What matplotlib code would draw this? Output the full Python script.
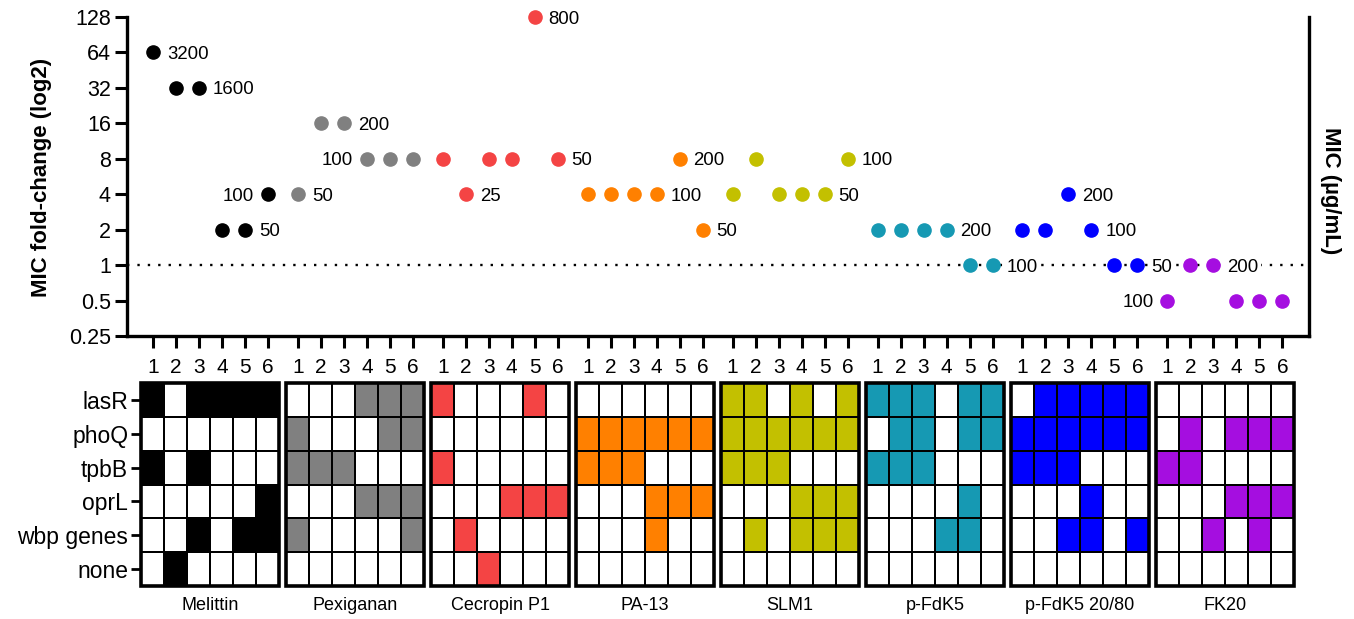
import numpy as np
import matplotlib.pyplot as plt
from matplotlib.colors import ListedColormap
from matplotlib.patches import Rectangle
from matplotlib.ticker import NullLocator

plt.rcParams['font.family'] = ['Liberation Sans', 'DejaVu Sans']

peptides = ['Melittin', 'Pexiganan', 'Cecropin P1', 'PA-13', 'SLM1',
            'p-FdK5', 'p-FdK5 20/80', 'FK20']
colors = ['#000000', '#808080', '#f44444', '#ff8000', '#c3c000',
          '#1699b3', '#0000ff', '#a50ee0']
replicates = ['1', '2', '3', '4', '5', '6']
genes = ['lasR', 'phoQ', 'tpbB', 'oprL', 'wbp genes', 'none']

# MIC fold-change of each evolved line (6 per peptide)
fold_change = [
    [64, 32, 32, 2, 2, 4],        # Melittin
    [4, 16, 16, 8, 8, 8],         # Pexiganan
    [8, 4, 8, 8, 128, 8],         # Cecropin P1
    [4, 4, 4, 4, 8, 2],           # PA-13
    [4, 8, 4, 4, 4, 8],           # SLM1
    [2, 2, 2, 2, 1, 1],           # p-FdK5
    [2, 2, 4, 2, 1, 1],           # p-FdK5 20/80
    [0.5, 1, 1, 0.5, 0.5, 0.5],   # FK20
]

# MIC (ug/mL) annotations: (replicate index, text, side)
mic_labels = [
    [(0, '3200', 'r'), (2, '1600', 'r'), (4, '50', 'r'), (5, '100', 'l')],
    [(0, '50', 'r'), (2, '200', 'r'), (3, '100', 'l')],
    [(1, '25', 'r'), (4, '800', 'r'), (5, '50', 'r')],
    [(3, '100', 'r'), (4, '200', 'r'), (5, '50', 'r')],
    [(4, '50', 'r'), (5, '100', 'r')],
    [(3, '200', 'r'), (5, '100', 'r')],
    [(2, '200', 'r'), (3, '100', 'r'), (5, '50', 'r')],
    [(0, '100', 'l'), (2, '200', 'r')],
]

# mutated genes (rows = genes, cols = replicates)
mutations = [
    [[1, 0, 1, 1, 1, 1], [0, 0, 0, 0, 0, 0], [1, 0, 1, 0, 0, 0],
     [0, 0, 0, 0, 0, 1], [0, 0, 1, 0, 1, 1], [0, 1, 0, 0, 0, 0]],
    [[0, 0, 0, 1, 1, 1], [1, 0, 0, 0, 1, 1], [1, 1, 1, 0, 0, 0],
     [0, 0, 0, 1, 1, 1], [1, 0, 0, 0, 0, 1], [0, 0, 0, 0, 0, 0]],
    [[1, 0, 0, 0, 1, 0], [0, 0, 0, 0, 0, 0], [1, 0, 0, 0, 0, 0],
     [0, 0, 0, 1, 1, 1], [0, 1, 0, 0, 0, 0], [0, 0, 1, 0, 0, 0]],
    [[0, 0, 0, 0, 0, 0], [1, 1, 1, 1, 1, 1], [1, 1, 1, 0, 0, 0],
     [0, 0, 0, 1, 1, 1], [0, 0, 0, 1, 0, 0], [0, 0, 0, 0, 0, 0]],
    [[1, 1, 0, 1, 0, 1], [1, 1, 1, 1, 1, 1], [1, 1, 1, 0, 0, 0],
     [0, 0, 0, 1, 1, 1], [0, 1, 0, 1, 1, 1], [0, 0, 0, 0, 0, 0]],
    [[1, 1, 1, 0, 1, 1], [0, 1, 1, 0, 1, 1], [1, 1, 1, 0, 0, 0],
     [0, 0, 0, 0, 1, 0], [0, 0, 0, 1, 1, 0], [0, 0, 0, 0, 0, 0]],
    [[0, 1, 1, 1, 1, 1], [1, 1, 1, 1, 1, 1], [1, 1, 1, 0, 0, 0],
     [0, 0, 0, 1, 0, 0], [0, 0, 1, 1, 0, 1], [0, 0, 0, 0, 0, 0]],
    [[0, 0, 0, 0, 0, 0], [0, 1, 0, 1, 1, 1], [1, 1, 0, 0, 0, 0],
     [0, 0, 0, 1, 1, 1], [0, 0, 1, 0, 1, 0], [0, 0, 0, 0, 0, 0]],
]

STRIDE = 6.3
W, H = 1354, 619

fig = plt.figure(figsize=(W / 100, H / 100), dpi=100)
ax = fig.add_axes([127 / W, (H - 336) / H, (1309 - 127) / W, (336 - 17) / H])

xticks = []
for g, vals in enumerate(fold_change):
    x = g * STRIDE + np.arange(len(vals))
    xticks.extend(x)
    ax.plot(x, vals, 'o', ms=9.5, color=colors[g], zorder=4, clip_on=False)
    for i, txt, side in mic_labels[g]:
        off = 10 if side == 'r' else -10
        ax.annotate(txt, (x[i], vals[i]), xytext=(off, 0), textcoords='offset points',
                    ha='left' if side == 'r' else 'right', va='center_baseline',
                    fontsize=13.4, zorder=3, annotation_clip=False,
                    bbox=dict(fc='white', ec='none', pad=1.5))

ax.axhline(1, color='black', lw=1.7, ls=(0, (1, 3.4)), zorder=1)

ax.set_yscale('log', base=2)
ax.set_ylim(0.25, 128)
yt = [0.25, 0.5, 1, 2, 4, 8, 16, 32, 64, 128]
ax.set_yticks(yt)
ax.set_yticklabels(['0.25', '0.5', '1', '2', '4', '8', '16', '32', '64', '128'])
ax.yaxis.set_minor_locator(NullLocator())
ax.set_xlim(-1.13, 50.26)
ax.set_xticks(xticks)
ax.set_xticklabels(replicates * len(peptides))
ax.spines['top'].set_visible(False)
for s in ['left', 'bottom', 'right']:
    ax.spines[s].set_linewidth(2.4)
ax.tick_params(axis='y', length=8.6, width=2.2, labelsize=15.5, pad=3)
ax.tick_params(axis='x', length=8.6, width=2.2, labelsize=15, pad=7)

fig.text(42 / W, 1 - 177 / H, 'MIC fold-change (log2)', rotation=90,
         ha='center', va='center', fontsize=16, fontweight='bold')
fig.text(1330 / W, 1 - 191 / H, 'MIC (µg/mL)', rotation=270,
         ha='center', va='center', fontsize=16, fontweight='bold')

# mutation grids
axb = fig.add_axes([140 / W, (H - 586) / H, (1309 - 140) / W, (586 - 383) / H])
for g, grid in enumerate(mutations):
    X = g * STRIDE + np.arange(7) - 0.5
    Y = np.arange(7)
    axb.pcolormesh(X, Y, np.array(grid), cmap=ListedColormap(['white', colors[g]]),
                   vmin=0, vmax=1, edgecolors='black', linewidth=1.3)
    axb.add_patch(Rectangle((X[0], 0), 6, 6, fill=False, lw=2.6, ec='black',
                            clip_on=False, zorder=3))
    axb.text(X[0] + 3, 6.33, peptides[g], ha='center', va='top', fontsize=13)

axb.set_xlim(-0.565, 50.26)
axb.set_ylim(6, 0)
for s in axb.spines.values():
    s.set_visible(False)
axb.set_xticks([])
axb.set_yticks(np.arange(6) + 0.5)
axb.set_yticklabels(genes)
axb.tick_params(axis='y', length=6.5, width=2, labelsize=16.5, pad=2)

fig.savefig('out.png', dpi=100)
